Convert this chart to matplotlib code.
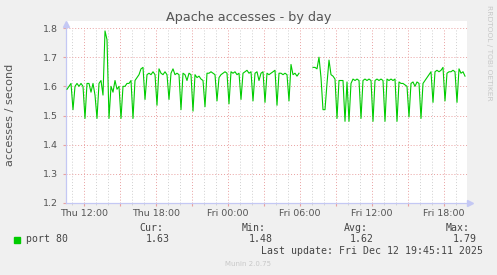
import matplotlib
matplotlib.use("Agg")
import matplotlib.pyplot as plt
import matplotlib.dates as mdates
from matplotlib.patches import Rectangle
import numpy as np
import pandas as pd

# accesses per second, one sample every 10 minutes from Thu 10:35
start = "2025-12-11 10:35"
values = [
    1.59, 1.60, 1.61, 1.52, 1.60, 1.61, 1.60, 1.61, 1.60, 1.49,
    1.61, 1.61, 1.58, 1.61, 1.57, 1.49, 1.61, 1.62, 1.57, 1.79,
    1.76, 1.49, 1.60, 1.58, 1.62, 1.59, 1.60, 1.49, 1.60, 1.60,
    1.61, 1.61, 1.62, 1.49, 1.62, 1.63, 1.64, 1.66, 1.665, 1.555,
    1.64, 1.645, 1.64, 1.65, 1.64, 1.535, 1.66, 1.645, 1.64, 1.65,
    1.64, 1.555, 1.645, 1.66, 1.64, 1.645, 1.64, 1.52, 1.645, 1.64,
    1.62, 1.645, 1.64, 1.515, 1.64, 1.63, 1.635, 1.625, 1.62, 1.53,
    1.645, 1.645, 1.65, 1.645, 1.64, 1.55, 1.63, 1.64, 1.645, 1.65,
    1.645, 1.54, 1.65, 1.645, 1.65, 1.64, 1.645, 1.555, 1.645, 1.65,
    1.655, 1.645, 1.65, 1.55, 1.645, 1.65, 1.62, 1.645, 1.65, 1.545,
    1.645, 1.64, 1.645, 1.65, 1.655, 1.535, 1.645, 1.645, 1.64, 1.645,
    1.64, 1.55, 1.675, 1.64, 1.645, 1.635, 1.645, np.nan, np.nan, np.nan,
    np.nan, np.nan, np.nan, 1.665, 1.665, 1.66, 1.70, 1.63, 1.52, 1.52,
    1.61, 1.69, 1.64, 1.635, 1.625, 1.49, 1.62, 1.62, 1.62, 1.48,
    1.615, 1.48, 1.61, 1.625, 1.62, 1.625, 1.62, 1.49, 1.62, 1.625,
    1.62, 1.625, 1.62, 1.48, 1.62, 1.625, 1.62, 1.625, 1.62, 1.48,
    1.625, 1.62, 1.625, 1.62, 1.625, 1.48, 1.615, 1.61, 1.61, 1.605,
    1.60, 1.495, 1.61, 1.615, 1.60, 1.615, 1.61, 1.49, 1.61, 1.62,
    1.63, 1.64, 1.65, 1.545, 1.65, 1.655, 1.65, 1.655, 1.665, 1.55,
    1.645, 1.65, 1.65, 1.655, 1.65, 1.545, 1.66, 1.645, 1.65, 1.635,
]
times = pd.date_range(start, periods=len(values), freq="10min")

series_label = "port 80"
stat_names = ["Cur:", "Min:", "Avg:", "Max:"]
stat_values = ["1.63", "1.48", "1.62", "1.79"]
last_update = "Last update: Fri Dec 12 19:45:11 2025"
y_ticks = [1.2, 1.3, 1.4, 1.5, 1.6, 1.7, 1.8]

W, H = 497, 275
green = "#00CC00"
grid_red = "#E9A0A0"
grid_gray = "#CFCFCF"
axis_col = "#C4C8F4"
text_col = "#555555"

fig = plt.figure(figsize=(W / 100, H / 100), dpi=100, facecolor="#F0F0F0")
ax = fig.add_axes([66 / W, 1 - 203 / H, (467 - 66) / W, (203 - 21) / H])
ax.set_facecolor("white")

ax.plot(times, values, color=green, lw=0.8, zorder=3)

t0 = pd.Timestamp("2025-12-11 10:30")
t1 = pd.Timestamp("2025-12-12 19:55")
ax.set_xlim(t0, t1)
ax.set_ylim(1.2, 1.8 + 7 / 291.0)

# grid like rrdtool: gray every hour, red every 3 hours, red at every 0.1
hours = pd.date_range("2025-12-11 11:00", "2025-12-12 19:00", freq="1h")
for h in hours:
    c = grid_red if h.hour % 3 == 0 else grid_gray
    ax.plot([h, h], [1.2, 1.8], color=c, lw=0.7, ls=(0, (1, 2)), zorder=1)
for yv in y_ticks[1:]:
    ax.plot([t0, t1], [yv, yv], color=grid_red, lw=0.7, ls=(0, (1, 2)), zorder=1)

for s in ["top", "right"]:
    ax.spines[s].set_visible(False)
for s in ["left", "bottom"]:
    ax.spines[s].set_color(axis_col)
    ax.spines[s].set_linewidth(0.9)
ax.spines["left"].set_bounds(1.2, 1.8)

# arrow heads
ax.plot([0], [0.985], marker="^", ms=5, color=axis_col, transform=ax.transAxes,
        clip_on=False, zorder=4)
ax.plot([1.008], [0], marker=">", ms=5, color=axis_col, transform=ax.transAxes,
        clip_on=False, zorder=4)

ax.set_yticks(y_ticks)
ax.set_yticklabels(["%.1f" % v for v in y_ticks])
ax.tick_params(axis="y", length=2, color=grid_red, labelsize=6.8,
               labelcolor=text_col, pad=4)

ax.xaxis.set_major_locator(mdates.HourLocator(byhour=range(0, 24, 3)))
ax.xaxis.set_minor_locator(mdates.HourLocator())


def fmt(x, pos):
    d = mdates.num2date(x)
    if d.hour % 6 == 0:
        return d.strftime("%a %H:%M")
    return ""


ax.xaxis.set_major_formatter(plt.FuncFormatter(fmt))
ax.tick_params(axis="x", which="major", length=2.5, color=grid_red,
               labelsize=6.8, labelcolor=text_col, pad=2)
ax.tick_params(axis="x", which="minor", length=1.5, color=grid_gray)

fig.text(248.5 / W, 1 - 17 / H, "Apache accesses - by day", ha="center",
         va="center", fontsize=9.2, color=text_col)
fig.text(10 / W, 1 - 115 / H, "accesses / second", rotation=90, ha="center",
         va="center", fontsize=8.1, color=text_col)
fig.text(488.5 / W, 1 - 5 / H, "RRDTOOL / TOBI OETIKER", rotation=270,
         ha="center", va="top", fontsize=5.4, color="#C8C8C8")

mono = "DejaVu Sans Mono"
fs = 7.1
fig.add_artist(Rectangle((14 / W, 1 - 242.5 / H), 6 / W, 6 / H,
                         transform=fig.transFigure, color=green))
fig.text(26.5 / W, 1 - 239.5 / H, series_label, family=mono, fontsize=fs,
         color="#444444", va="center")
name_right = [163, 266, 368, 470]
val_right = [170, 273, 374, 477]
for n, v, xn, xv in zip(stat_names, stat_values, name_right, val_right):
    fig.text(xn / W, 1 - 228 / H, n, family=mono, fontsize=fs,
             color="#444444", va="center", ha="right")
    fig.text(xv / W, 1 - 239.5 / H, v, family=mono, fontsize=fs,
             color="#444444", va="center", ha="right")
fig.text(483 / W, 1 - 251.5 / H, last_update, family=mono, fontsize=fs,
         color="#444444", va="center", ha="right")
fig.text(248 / W, 1 - 264 / H, "Munin 2.0.75", fontsize=5, color="#C8C8C8",
         va="center", ha="center")

fig.savefig("out.png", dpi=100, facecolor=fig.get_facecolor())
